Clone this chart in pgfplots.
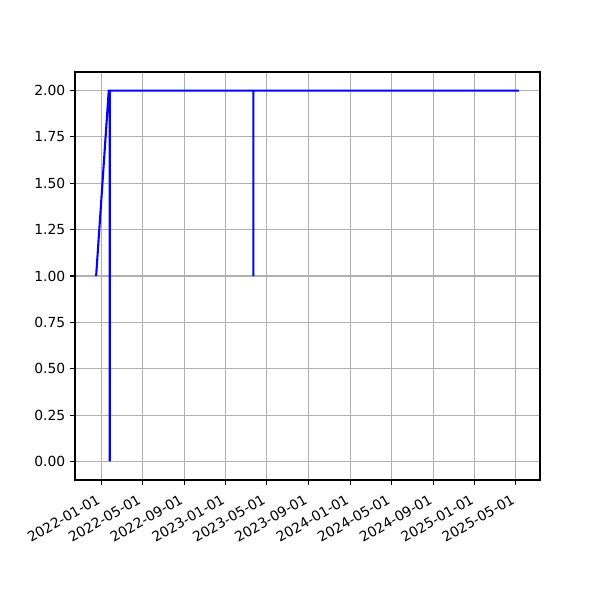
\documentclass[border=0pt]{standalone}
\usepackage{pgfplots}
\pgfplotsset{compat=1.18}
\usepackage{fontspec}
\setmainfont{DejaVu Sans}
\begin{document}
\begin{tikzpicture}
\path (-54pt,-86.4pt) rectangle (378pt,345.6pt);
\begin{axis}[
  at={(0,0)}, anchor=south west,
  scale only axis, width=334.8pt, height=293.76pt,
  xmin=-77, xmax=1287, ymin=-0.1, ymax=2.1,
  xtick={0,120,243,365,485,608,730,851,974,1096,1216},
  xticklabels={2022-01-01,2022-05-01,2022-09-01,2023-01-01,2023-05-01,2023-09-01,2024-01-01,2024-05-01,2024-09-01,2025-01-01,2025-05-01},
  ytick={0,0.25,0.5,0.75,1,1.25,1.5,1.75,2},
  /pgf/number format/fixed, /pgf/number format/fixed zerofill, /pgf/number format/precision=2, /pgf/number format/assume math mode=true,
  xticklabel style={rotate=30, anchor=north east, xshift=-3pt, font=\fontsize{10}{12}\selectfont},
  yticklabel style={font=\fontsize{10}{12}\selectfont},
  tick align=outside, major tick length=3.5pt,
  tick style={black, line width=0.8pt},
  xtick pos=bottom, ytick pos=left,
  grid=major, grid style={color=black!31, line width=0.8pt},
  axis line style={line width=0.8pt},
]
\addplot[blue, line width=1.5pt, mark=none] coordinates {
(-15,1) (22,2) (25,2) (25,0) (25,2) (446,2) (446,1) (446,2) (1225,2)
};
\end{axis}
\end{tikzpicture}
\end{document}
